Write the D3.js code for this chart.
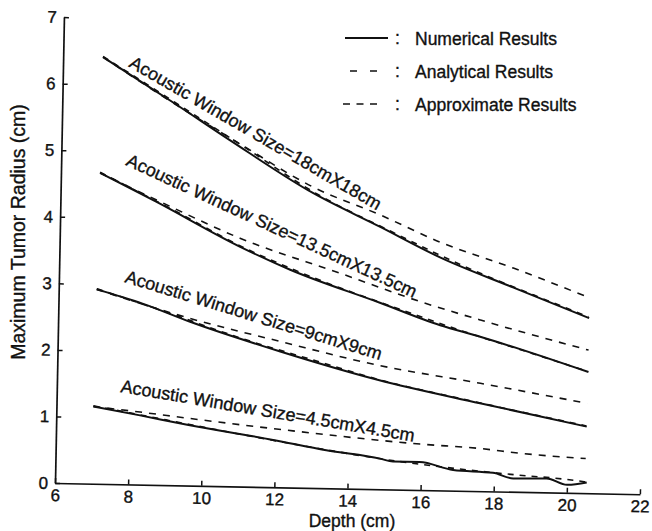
<!DOCTYPE html>
<html>
<head>
<meta charset="utf-8">
<script src="https://cdn.jsdelivr.net/npm/d3@7"></script>
<style>
  body { margin: 0; background: #fff; }
  text { font-family: "Liberation Sans", Arial, Helvetica, sans-serif; fill: #111; stroke: #111; stroke-width: 0.35px; }
</style>
</head>
<body>
<script>
// depth (cm) / max tumor radius (cm)
var num18 = [[7.09,6.41],[8.0,6.10],[9.0,5.76],[10.6,5.20],[12.9,4.43],[14.76,3.94],[16.41,3.50],[18.42,3.07],[20.52,2.63]];
var num13 = [[7.07,4.67],[8.63,4.25],[10.94,3.60],[12.32,3.27],[14.79,2.80],[16.45,2.48],[17.55,2.32],[20.53,1.82]];
var num9  = [[7.04,2.92],[8.3,2.72],[9.61,2.46],[12.09,2.04],[14.79,1.64],[17.58,1.32],[20.51,1.00]];
var num45 = [[7.01,1.16],[8.29,1.04],[9.62,0.91],[11.94,0.71],[13.4,0.57],[14.88,0.46],[15.23,0.42],[15.96,0.42],[16.88,0.31],[17.97,0.28],[18.53,0.20],[19.44,0.21],[20.0,0.12],[20.54,0.16]];

var ana18 = [[7.09,6.42],[9,5.78],[11,5.10],[13,4.42],[15,3.89],[17,3.39],[19,2.96],[20.5,2.65]];
var ana13 = [[7.07,4.68],[9,4.16],[11,3.60],[13,3.15],[15,2.77],[17,2.41],[19,2.08],[20.5,1.83]];
var ana9  = [[7.04,2.93],[9,2.59],[11,2.23],[13,1.92],[15,1.62],[17,1.39],[19,1.17],[20.5,1.01]];
var ana45 = [[7.01,1.17],[9,0.98],[11,0.79],[13,0.61],[15,0.45],[17,0.33],[19,0.24],[19.6,0.22],[20.5,0.17]];

var apx18 = [[7.09,6.41],[8.95,5.77],[10.9,5.14],[12.9,4.52],[14.75,4.12],[16.4,3.73],[18.42,3.36],[20.45,2.95]];
var apx13 = [[7.07,4.67],[8.63,4.28],[10.93,3.73],[13.7,3.23],[15.89,2.83],[17.55,2.57],[20.52,2.15]];
var apx9  = [[7.04,2.92],[9.61,2.51],[12.09,2.19],[14.79,1.86],[17.58,1.62],[20.51,1.35]];
var apx45 = [[7.01,1.16],[8.29,1.09],[9.62,1.01],[12.31,0.86],[15.96,0.69],[17.62,0.64],[18.72,0.58],[20.5,0.52]];

var windowLabels = ["Acoustic Window Size=18cmX18cm", "Acoustic Window Size=13.5cmX13.5cm",
                    "Acoustic Window Size=9cmX9cm", "Acoustic Window Size=4.5cmX4.5cm"];
var legendLabels = ["Numerical Results", "Analytical Results", "Approximate Results"];
var xTicks = [6, 8, 10, 12, 14, 16, 18, 20, 22];
var yTicks = [0, 1, 2, 3, 4, 5, 6, 7];

var W = 652, H = 531;
var tilt = 1.1;   // the scan is slightly rotated
var font = "Liberation Sans, Arial, Helvetica, sans-serif";

var svg = d3.select("body").append("svg")
    .attr("width", W)
    .attr("height", H);

var x = d3.scaleLinear().domain([6, 22]).range([55, 640]);
var y = d3.scaleLinear().domain([0, 7]).range([483, 17]);

var plot = svg.append("g")
    .attr("transform", `rotate(${tilt},${x(6)},${y(0)})`);

// axes
var gx = plot.append("g")
    .attr("transform", `translate(0,${y(0)})`)
    .call(d3.axisBottom(x).tickValues(xTicks).tickFormat(d3.format("d"))
        .tickSizeInner(-5).tickSizeOuter(0).tickPadding(6));
var gy = plot.append("g")
    .attr("transform", `translate(${x(6)},0)`)
    .call(d3.axisLeft(y).tickValues(yTicks).tickFormat(d3.format("d"))
        .tickSizeInner(-5).tickSizeOuter(0).tickPadding(7));

[gx, gy].forEach(g => {
    g.attr("font-family", font).attr("font-size", 17);
    g.select(".domain").attr("stroke", "#111").attr("stroke-width", 1.7);
    g.selectAll(".tick line").attr("stroke", "#111").attr("stroke-width", 1.5);
    g.selectAll(".tick text").attr("fill", "#111");
});

var line = d3.line()
    .x(d => x(d[0]))
    .y(d => y(d[1]))
    .curve(d3.curveMonotoneX);

// approximate results
[apx18, apx13, apx9, apx45].forEach(s => {
    plot.append("path").datum(s)
        .attr("d", line)
        .attr("fill", "none")
        .attr("stroke", "#111")
        .attr("stroke-width", 1.6)
        .attr("stroke-dasharray", "7,7");
});

// analytical results
[ana18, ana13, ana9, ana45].forEach(s => {
    plot.append("path").datum(s)
        .attr("d", line)
        .attr("fill", "none")
        .attr("stroke", "#111")
        .attr("stroke-width", 1.6)
        .attr("stroke-dasharray", "6,6");
});

// numerical results
[num18, num13, num9, num45].forEach(s => {
    plot.append("path").datum(s)
        .attr("d", line)
        .attr("fill", "none")
        .attr("stroke", "#111")
        .attr("stroke-width", 2)
        .attr("stroke-linejoin", "round");
});

// window size labels: start point (data units) and screen angle
var labelPos = [[7.78, 6.28, 30.1], [7.75, 4.80, 24.8], [7.78, 3.04, 17], [7.73, 1.385, 9.6]];
windowLabels.forEach((t, i) => {
    var p = labelPos[i];
    plot.append("text")
        .attr("transform", `translate(${x(p[0])},${y(p[1])}) rotate(${p[2] - tilt})`)
        .attr("font-size", 18)
        .text(t);
});

// legend
var lg = svg.append("g");
var rowY = [38, 71, 104];
lg.append("line").attr("x1", 345).attr("x2", 388).attr("y1", rowY[0]).attr("y2", rowY[0])
    .attr("stroke", "#111").attr("stroke-width", 2);
lg.append("line").attr("x1", 350).attr("x2", 377).attr("y1", rowY[1]).attr("y2", rowY[1])
    .attr("stroke", "#111").attr("stroke-width", 1.6).attr("stroke-dasharray", "7,13");
lg.append("line").attr("x1", 343).attr("x2", 377).attr("y1", rowY[2]).attr("y2", rowY[2])
    .attr("stroke", "#111").attr("stroke-width", 1.6).attr("stroke-dasharray", "7,6.5");
legendLabels.forEach((t, i) => {
    lg.append("text").attr("x", 395).attr("y", rowY[i] + 6).attr("font-size", 17.5).text(":");
    lg.append("text").attr("x", 415).attr("y", rowY[i] + 7).attr("font-size", 17.5).text(t);
});

// axis titles
svg.append("text")
    .attr("x", 352).attr("y", 527)
    .attr("text-anchor", "middle")
    .attr("font-size", 17.5)
    .text("Depth (cm)");
svg.append("text")
    .attr("transform", "translate(25,232) rotate(-90)")
    .attr("text-anchor", "middle")
    .attr("font-size", 19.5)
    .text("Maximum Tumor Radius (cm)");
</script>
</body>
</html>
